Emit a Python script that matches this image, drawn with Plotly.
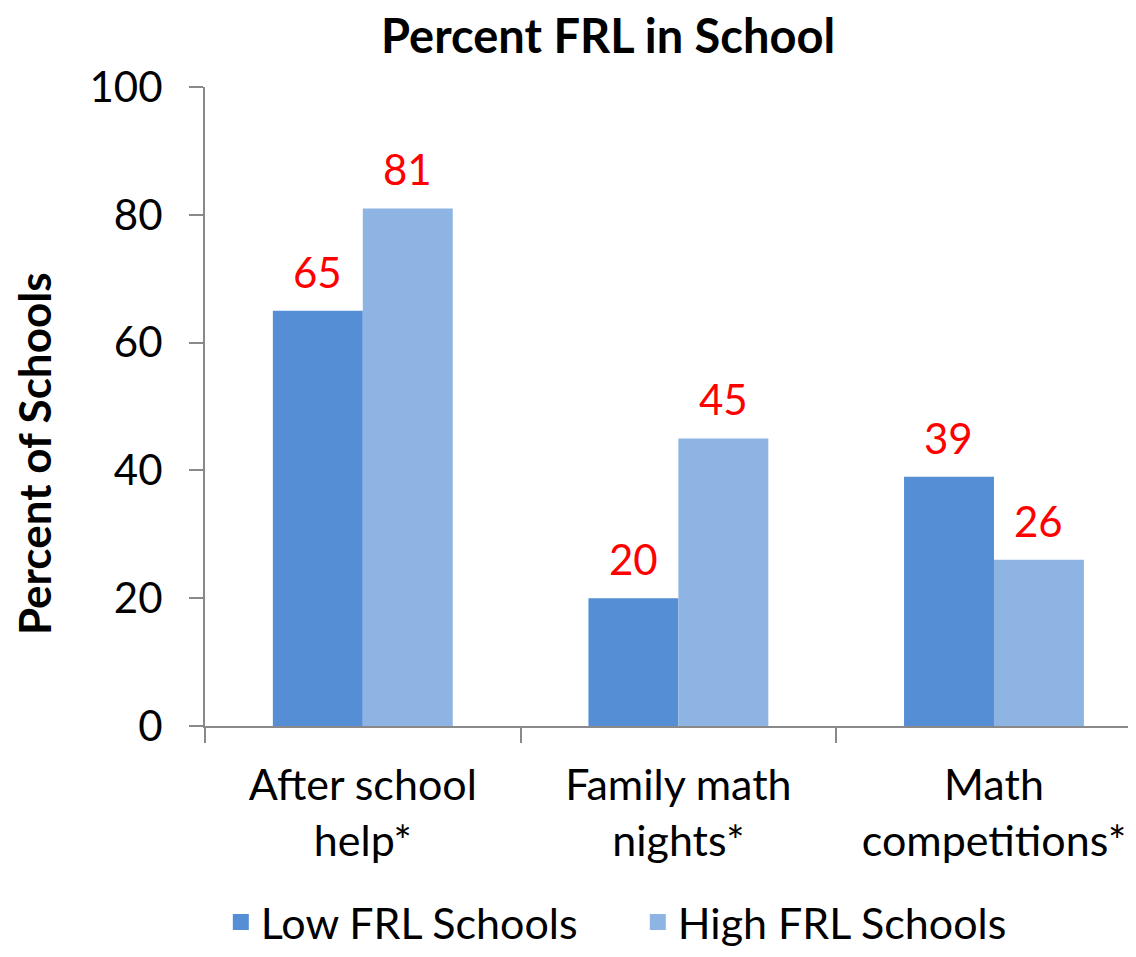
import plotly.graph_objects as go

# Daten
categories = ["After school<br>help*", "Family math<br>nights*", "Math<br>competitions*"]
low_frl = [65, 20, 39]
high_frl = [81, 45, 26]
series_names = ["Low FRL Schools", "High FRL Schools"]
series_colors = ["#558ED5", "#8EB4E3"]
y_ticks = [0, 20, 40, 60, 80, 100]

FONT = "Lato"
AXIS_GRAY = "#898989"
LABEL_RED = "#FF0000"

fig = go.Figure()

# Balken (Legende über eigene Marker mit größerem Quadrat)
for name, vals, col in zip(series_names, [low_frl, high_frl], series_colors):
    fig.add_bar(x=categories, y=vals, name=name, marker_color=col,
                marker_line_width=0, showlegend=False, legendgroup=name)
    fig.add_scatter(x=[None], y=[None], mode="markers", name=name, legendgroup=name,
                    marker=dict(symbol="square", size=28, color=col), showlegend=True)

# Werte über den Balken (rote Zahlen), links/rechts je nach Serie
for vals, shift in [(low_frl, -45), (high_frl, 45)]:
    for cat, v in zip(categories, vals):
        fig.add_annotation(x=cat, y=v, text=str(v), showarrow=False,
                           xshift=shift, yanchor="bottom", yshift=12,
                           font=dict(color=LABEL_RED, size=42, family=FONT))

# Achsentitel als Annotation, damit er etwas tiefer sitzt
fig.add_annotation(xref="paper", yref="paper", x=-0.1837, y=0.427, text="<b>Percent of Schools</b>",
                   textangle=-90, showarrow=False, xanchor="center", yanchor="middle",
                   font=dict(size=44, family=FONT, color="black"))

fig.update_layout(
    width=1128, height=949,
    paper_bgcolor="white", plot_bgcolor="white",
    barmode="group", bargap=0.43, bargroupgap=0,
    font=dict(family=FONT, size=42, color="black"),
    title=dict(text="<b>Percent FRL in School</b>", xref="paper", x=0.433, xanchor="center",
               y=0.97, yanchor="middle", font=dict(size=47, family=FONT)),
    margin=dict(l=197, r=0, t=79, b=231),
    legend=dict(orientation="h", x=0.017, xanchor="left", y=-0.307, yanchor="middle",
                font=dict(size=43), itemwidth=30, entrywidth=372, traceorder="normal"),
)

fig.update_xaxes(
    range=[-0.5, 2.45], showline=True, linecolor=AXIS_GRAY, linewidth=2,
    ticks="outside", tickson="boundaries", ticklen=15, tickcolor=AXIS_GRAY, tickwidth=2,
    showgrid=False, tickfont=dict(size=43), ticklabelstandoff=20,
    automargin=False, fixedrange=True,
)
fig.update_yaxes(
    range=[0, 100], tickvals=y_ticks, showline=True, linecolor=AXIS_GRAY, linewidth=2,
    ticks="outside", ticklen=14, tickcolor=AXIS_GRAY, tickwidth=2, showgrid=False,
    zeroline=False, tickfont=dict(size=42), ticklabelstandoff=18, automargin=False,
)

fig.write_html("out.html")
